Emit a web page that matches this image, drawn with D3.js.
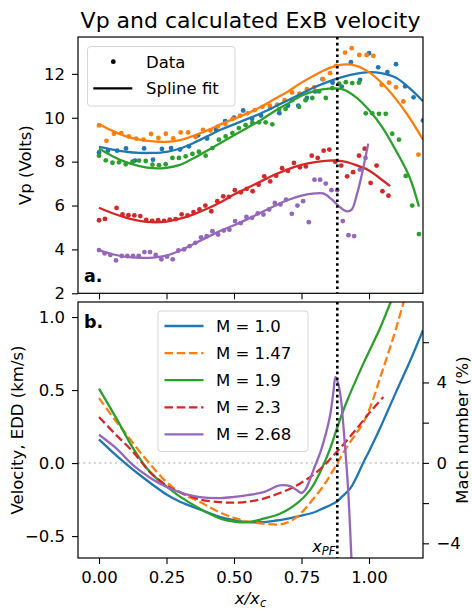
<!DOCTYPE html>
<html><head><meta charset="utf-8">
<script src="https://cdn.jsdelivr.net/npm/d3@7"></script>
<style>
body{margin:0;background:#fff;}
svg{display:block;font-family:"DejaVu Sans",sans-serif;}
</style></head><body>
<svg id="chart" width="472" height="612"></svg>
<script>
// ---------------- DATA ----------------
const colors = ["#1f77b4","#ff7f0e","#2ca02c","#d62728","#9467bd"];
const machLabels = ["M = 1.0","M = 1.47","M = 1.9","M = 2.3","M = 2.68"];
const dashed = [false,true,false,true,false];

// top panel: measured Vp points [x/xc, Vp]
const ptsM10 = [[0,8.42],[0.033,8.5],[0.067,8.5],[0.1,8.6],[0.133,8.05],[0.167,8.6],[0.2,8.09],[0.233,8.58],[0.267,8.62],[0.3,8.55],[0.333,8.7],[0.367,9.2],[0.4,9.05],[0.433,9.45],[0.467,9.85],[0.5,10.0],[0.534,10.33],[0.567,9.95],[0.6,10.1],[0.634,10.45],[0.668,10.21],[0.7,10.55],[0.738,10.55],[0.77,10.9],[0.8,11.2],[0.828,11.76],[0.865,11.6],[0.899,11.42],[0.933,12.53],[0.967,11.73],[1.0,12.94],[1.034,12.3],[1.068,12.08],[1.1,12.44],[1.134,11.43],[1.165,10.93],[1.2,9.88]];
const ptsM147 = [[0,9.65],[0.0275,8.95],[0.055,9.27],[0.0825,9.3],[0.11,9.15],[0.1375,9.05],[0.165,9.0],[0.1925,9.26],[0.22,9.08],[0.2475,9.27],[0.275,9.06],[0.3025,9.33],[0.33,9.33],[0.3575,9.12],[0.385,9.45],[0.4125,9.42],[0.44,9.6],[0.4675,9.72],[0.495,9.95],[0.5225,10.1],[0.55,10.2],[0.5775,10.35],[0.605,10.5],[0.6325,10.55],[0.66,10.6],[0.6875,10.8],[0.715,11.15],[0.7425,11.1],[0.77,11.3],[0.7975,11.4],[0.83,11.76],[0.856,12.03],[0.878,12.36],[0.911,12.97],[0.936,13.17],[0.964,12.86],[0.991,12.86],[1.016,12.82],[1.047,11.5],[1.074,11.6],[1.1,11.39],[1.127,10.74],[1.183,8.32]];
const ptsM19 = [[0,8.27],[0.025,8.06],[0.05,7.95],[0.074,7.97],[0.099,7.88],[0.124,8.0],[0.148,8.05],[0.173,8.03],[0.198,7.86],[0.222,7.84],[0.247,7.88],[0.272,8.17],[0.296,8.17],[0.321,8.24],[0.346,8.35],[0.37,8.45],[0.395,8.27],[0.42,8.62],[0.444,9.0],[0.469,9.15],[0.494,9.3],[0.518,9.53],[0.543,9.66],[0.568,9.76],[0.593,9.79],[0.617,9.79],[0.642,9.7],[0.667,10.38],[0.691,10.4],[0.716,10.8],[0.741,10.5],[0.765,10.8],[0.79,10.9],[0.815,11.2],[0.84,10.9],[0.864,11.35],[0.889,11.55],[0.914,11.62],[0.938,11.58],[0.963,11.6],[0.988,10.2],[1.012,10.2],[1.037,10.18],[1.062,10.18],[1.086,9.27],[1.111,9.0],[1.136,7.35],[1.16,6.0],[1.185,4.7]];
const ptsM23 = [[0,5.33],[0.022,5.39],[0.065,5.89],[0.087,5.59],[0.109,5.56],[0.131,5.55],[0.153,5.52],[0.175,5.35],[0.197,5.3],[0.219,5.33],[0.241,5.3],[0.262,5.36],[0.284,5.38],[0.306,5.6],[0.328,5.55],[0.35,5.7],[0.372,5.82],[0.394,6.0],[0.416,5.74],[0.438,6.2],[0.46,6.42],[0.481,6.39],[0.503,6.7],[0.525,6.6],[0.547,6.76],[0.569,6.65],[0.591,6.95],[0.612,7.33],[0.634,7.1],[0.656,7.36],[0.678,7.7],[0.7,7.58],[0.722,7.94],[0.744,7.74],[0.766,7.78],[0.788,8.27],[0.81,8.17],[0.832,8.5],[0.853,8.55],[0.875,8.0],[0.897,7.82],[0.919,7.33],[0.941,7.52],[0.963,8.27],[0.984,8.59],[1.006,7.03],[1.028,7.82],[1.05,6.65],[1.072,6.45]];
const ptsM268 = [[0,3.97],[0.021,3.82],[0.042,3.75],[0.063,3.5],[0.084,3.7],[0.105,3.7],[0.126,3.7],[0.147,3.7],[0.168,3.88],[0.189,3.88],[0.21,3.75],[0.231,3.55],[0.252,3.67],[0.273,3.55],[0.294,3.95],[0.315,4.0],[0.336,4.15],[0.357,4.3],[0.378,4.55],[0.399,4.6],[0.42,4.83],[0.441,4.68],[0.462,4.86],[0.483,4.9],[0.504,5.29],[0.525,5.2],[0.546,5.48],[0.567,5.44],[0.588,5.64],[0.609,5.59],[0.63,5.82],[0.651,6.12],[0.672,6.05],[0.693,6.27],[0.714,5.62],[0.735,6.0],[0.756,6.2],[0.777,5.24],[0.798,7.18],[0.819,7.18],[0.84,7.0],[0.861,6.7],[0.882,6.7],[0.903,5.29],[0.924,4.65],[0.945,4.61],[0.966,7.64],[0.987,8.17]];

// top panel: spline fits
const fitX = [0,0.05,0.1,0.15,0.2,0.25,0.3,0.35,0.4,0.45,0.5,0.55,0.6,0.65,0.7,0.75,0.8,0.85,0.9,0.95,1.0,1.05,1.1,1.15,1.2];
const fitM10 = [8.67,8.55,8.45,8.4,8.4,8.45,8.6,8.85,9.15,9.45,9.7,9.95,10.2,10.5,10.8,11.1,11.4,11.65,11.85,12.0,12.08,12.02,11.82,11.35,10.75];
const fitM147 = [9.72,9.4,9.15,9.0,8.92,8.9,8.98,9.18,9.42,9.7,9.95,10.2,10.5,10.85,11.2,11.6,11.95,12.25,12.42,12.38,12.08,11.55,10.85,10.0,9.0];
const fitM19X = [0,0.05,0.1,0.15,0.2,0.25,0.3,0.35,0.4,0.45,0.5,0.55,0.6,0.65,0.7,0.75,0.8,0.85,0.9,0.95,1.0,1.05,1.1,1.15,1.185];
const fitM19 = [8.6,8.25,7.98,7.8,7.7,7.72,7.85,8.15,8.5,8.85,9.2,9.55,9.9,10.3,10.65,11.0,11.22,11.33,11.3,10.95,10.35,9.55,8.5,7.3,5.95];
const fitM23X = [0,0.05,0.1,0.15,0.2,0.25,0.3,0.35,0.4,0.45,0.5,0.55,0.6,0.65,0.7,0.75,0.8,0.85,0.9,0.95,1.0,1.05,1.078];
const fitM23 = [5.9,5.65,5.45,5.3,5.24,5.27,5.4,5.6,5.85,6.15,6.5,6.8,7.1,7.4,7.65,7.85,7.98,8.05,8.02,7.85,7.6,7.15,6.88];
const fitM268X = [0,0.05,0.1,0.15,0.2,0.25,0.3,0.35,0.4,0.45,0.5,0.55,0.6,0.65,0.7,0.75,0.8,0.83,0.86,0.89,0.915,0.935,0.955,0.975,0.997];
const fitM268 = [3.97,3.78,3.66,3.62,3.63,3.72,3.95,4.25,4.55,4.85,5.1,5.38,5.68,5.98,6.25,6.45,6.55,6.55,6.3,5.95,5.74,5.8,6.5,7.5,8.82];

// bottom panel: velocity (km/s)
const velM10 = [[0,0.162],[0.05,0.075],[0.1,-0.005],[0.15,-0.08],[0.2,-0.15],[0.25,-0.215],[0.3,-0.265],[0.374,-0.318],[0.45,-0.37],[0.5,-0.39],[0.55,-0.405],[0.6,-0.405],[0.65,-0.395],[0.7,-0.38],[0.75,-0.36],[0.8,-0.335],[0.83,-0.31],[0.86,-0.285],[0.88,-0.265],[0.9,-0.23],[0.93,-0.175],[0.95,-0.11],[0.98,0.007],[1.0,0.08],[1.04,0.235],[1.07,0.36],[1.1,0.486],[1.15,0.69],[1.2,0.91]];
const velM147 = [[0,0.445],[0.065,0.281],[0.1,0.2],[0.152,0.075],[0.2,-0.03],[0.25,-0.13],[0.3,-0.2],[0.374,-0.267],[0.45,-0.34],[0.5,-0.375],[0.55,-0.4],[0.609,-0.415],[0.67,-0.42],[0.7,-0.405],[0.732,-0.37],[0.76,-0.32],[0.794,-0.244],[0.83,-0.16],[0.856,-0.084],[0.88,-0.01],[0.906,0.075],[0.94,0.17],[0.98,0.281],[1.01,0.41],[1.04,0.578],[1.07,0.745],[1.1,0.92],[1.135,1.15]];
const velM19 = [[0,0.51],[0.065,0.304],[0.127,0.099],[0.189,-0.062],[0.25,-0.16],[0.3,-0.23],[0.374,-0.312],[0.45,-0.38],[0.5,-0.4],[0.55,-0.405],[0.609,-0.381],[0.67,-0.347],[0.732,-0.278],[0.781,-0.187],[0.819,-0.062],[0.856,0.099],[0.883,0.247],[0.917,0.418],[0.979,0.681],[1.04,0.92],[1.08,1.1],[1.1,1.18]];
const velM23 = [[0,0.315],[0.065,0.19],[0.127,0.075],[0.189,-0.062],[0.25,-0.153],[0.3,-0.2],[0.374,-0.249],[0.45,-0.268],[0.5,-0.271],[0.55,-0.265],[0.609,-0.244],[0.67,-0.205],[0.732,-0.153],[0.806,-0.062],[0.88,0.075],[0.954,0.235],[1.004,0.349],[1.053,0.452]];
const velM268 = [[0,0.194],[0.065,0.099],[0.127,-0.016],[0.189,-0.1],[0.25,-0.164],[0.3,-0.2],[0.374,-0.233],[0.45,-0.24],[0.5,-0.232],[0.55,-0.22],[0.609,-0.199],[0.67,-0.153],[0.71,-0.16],[0.732,-0.185],[0.75,-0.205],[0.765,-0.18],[0.78,-0.118],[0.8,-0.02],[0.82,0.075],[0.84,0.2],[0.856,0.327],[0.868,0.486],[0.876,0.59],[0.885,0.55],[0.896,0.44],[0.904,0.28],[0.911,0.12],[0.918,-0.05],[0.924,-0.221],[0.93,-0.45],[0.936,-0.7]];

const xTicks = [0,0.25,0.5,0.75,1.0];
const xTickLabels = ["0.00","0.25","0.50","0.75","1.00"];
const vpTicks = [2,4,6,8,10,12];
const velTicks = [-0.5,0,0.5,1.0];
const velTickLabels = ["−0.5","0.0","0.5","1.0"];
const machTicks = [-4,-2,0,2,4,6];
const machTickLabels = ["−4","","0","","4",""];
const xPF = 0.8826;

// ---------------- LAYOUT ----------------
const svg = d3.select("#chart");
const L = 78, R = 423;
const topP = {t:37, b:293.3};
const botP = {t:302, b:558};
const FS = 16.5;

const x = d3.scaleLinear().domain([-0.0778,1.2]).range([L,R]);
const yTop = d3.scaleLinear().domain([2.0,13.68]).range([topP.b,topP.t]);
const yBot = d3.scaleLinear().domain([-0.65,1.103]).range([botP.b,botP.t]);
const yMach = d3.scaleLinear().domain([-4.73,8.0]).range([botP.b,botP.t]);

const defs = svg.append("defs");
defs.append("clipPath").attr("id","clipTop").append("rect").attr("x",L).attr("y",topP.t).attr("width",R-L).attr("height",topP.b-topP.t);
defs.append("clipPath").attr("id","clipBot").append("rect").attr("x",L).attr("y",botP.t).attr("width",R-L).attr("height",botP.b-botP.t);

// title
svg.append("text").attr("x",(L+R)/2).attr("y",28).attr("text-anchor","middle")
  .attr("font-size",22).attr("fill","#000").text("Vp and calculated ExB velocity");

function styleAxis(g){
  g.select(".domain").remove();
  g.selectAll(".tick line").attr("stroke","#000").attr("stroke-width",1.1);
  g.selectAll(".tick text").attr("font-size",FS).attr("fill","#000").attr("font-family","DejaVu Sans");
}

// ---------- TOP PANEL ----------
const gTop = svg.append("g");
gTop.append("g").attr("transform",`translate(0,${topP.b})`)
  .call(d3.axisBottom(x).tickValues(xTicks).tickFormat("").tickSize(6).tickSizeOuter(0)).call(styleAxis);
gTop.append("g").attr("transform",`translate(${L},0)`)
  .call(d3.axisLeft(yTop).tickValues(vpTicks).tickFormat(d3.format("d")).tickSize(6).tickPadding(7).tickSizeOuter(0)).call(styleAxis);

const line = (xs,ys,yS) => d3.line().x((d,i)=>x(xs[i])).y(d=>yS(d)).curve(d3.curveCatmullRom.alpha(0.5))(ys);
const linePairs = (pts,yS) => d3.line().x(d=>x(d[0])).y(d=>yS(d[1])).curve(d3.curveCatmullRom.alpha(0.5))(pts);

const plotTop = gTop.append("g").attr("clip-path","url(#clipTop)");
const allPts = [ptsM10,ptsM147,ptsM19,ptsM23,ptsM268];
const fits = [[fitX,fitM10],[fitX,fitM147],[fitM19X,fitM19],[fitM23X,fitM23],[fitM268X,fitM268]];
allPts.forEach((pts,k)=>{
  plotTop.append("g").selectAll("circle").data(pts).join("circle")
    .attr("cx",d=>x(d[0])).attr("cy",d=>yTop(d[1])).attr("r",2.4).attr("fill",colors[k]);
});
fits.forEach((f,k)=>{
  plotTop.append("path").attr("d",line(f[0],f[1],yTop)).attr("fill","none")
    .attr("stroke",colors[k]).attr("stroke-width",2.3);
});
plotTop.append("line").attr("x1",x(xPF)).attr("x2",x(xPF)).attr("y1",topP.t).attr("y2",topP.b)
  .attr("stroke","#000").attr("stroke-width",2.6).attr("stroke-dasharray","2.6,3.2");

gTop.append("rect").attr("x",L).attr("y",topP.t).attr("width",R-L).attr("height",topP.b-topP.t)
  .attr("fill","none").attr("stroke","#000").attr("stroke-width",1.2);

// top legend
const lgT = gTop.append("g");
lgT.append("rect").attr("x",87.5).attr("y",46.5).attr("width",147.5).attr("height",59.5).attr("rx",3)
  .attr("fill","#fff").attr("fill-opacity",0.8).attr("stroke","#d6d6d6").attr("stroke-width",1);
lgT.append("circle").attr("cx",113.3).attr("cy",61.7).attr("r",2.4).attr("fill","#000");
lgT.append("text").attr("x",146).attr("y",67.6).attr("font-size",FS).text("Data");
lgT.append("line").attr("x1",93.3).attr("x2",132.3).attr("y1",88.3).attr("y2",88.3).attr("stroke","#000").attr("stroke-width",2.3);
lgT.append("text").attr("x",146).attr("y",94.2).attr("font-size",FS).text("Spline fit");

gTop.append("text").attr("x",84).attr("y",281.5).attr("font-size",17.5).attr("font-weight","bold").text("a.");

svg.append("text").attr("transform",`translate(30.5,${(topP.t+topP.b)/2}) rotate(-90)`)
  .attr("text-anchor","middle").attr("font-size",FS).text("Vp (Volts)");

// ---------- BOTTOM PANEL ----------
const gBot = svg.append("g");
gBot.append("g").attr("transform",`translate(0,${botP.b})`)
  .call(d3.axisBottom(x).tickValues(xTicks).tickFormat((d,i)=>xTickLabels[i]).tickSize(6).tickPadding(7.5).tickSizeOuter(0)).call(styleAxis);
gBot.append("g").attr("transform",`translate(${L},0)`)
  .call(d3.axisLeft(yBot).tickValues(velTicks).tickFormat((d,i)=>velTickLabels[i]).tickSize(6).tickPadding(7).tickSizeOuter(0)).call(styleAxis);
gBot.append("g").attr("transform",`translate(${R},0)`)
  .call(d3.axisRight(yMach).tickValues(machTicks).tickFormat((d,i)=>machTickLabels[i]).tickSize(6).tickPadding(7.5).tickSizeOuter(0)).call(styleAxis);

const plotBot = gBot.append("g").attr("clip-path","url(#clipBot)");
plotBot.append("line").attr("x1",L).attr("x2",R).attr("y1",yBot(0)).attr("y2",yBot(0))
  .attr("stroke","#d3d3d3").attr("stroke-width",2).attr("stroke-dasharray","2,3.3");
const vels = [velM10,velM147,velM19,velM23,velM268];
vels.forEach((v,k)=>{
  plotBot.append("path").attr("d",linePairs(v,yBot)).attr("fill","none")
    .attr("stroke",colors[k]).attr("stroke-width",2.3)
    .attr("stroke-dasharray",dashed[k]?"8.5,3.7":null);
});
plotBot.append("line").attr("x1",x(xPF)).attr("x2",x(xPF)).attr("y1",botP.t).attr("y2",botP.b)
  .attr("stroke","#000").attr("stroke-width",2.6).attr("stroke-dasharray","2.6,3.2");

gBot.append("rect").attr("x",L).attr("y",botP.t).attr("width",R-L).attr("height",botP.b-botP.t)
  .attr("fill","none").attr("stroke","#000").attr("stroke-width",1.2);

// x_PF label
const pf = gBot.append("text").attr("x",x(xPF)-2).attr("y",552).attr("text-anchor","end").attr("font-style","italic").attr("font-size",16);
pf.append("tspan").text("x");
pf.append("tspan").attr("font-size",11.5).attr("dy",3).text("PF");

// bottom legend
const lgB = gBot.append("g");
lgB.append("rect").attr("x",158).attr("y",311).attr("width",150).attr("height",140.5).attr("rx",3)
  .attr("fill","#fff").attr("fill-opacity",0.8).attr("stroke","#d6d6d6").attr("stroke-width",1);
machLabels.forEach((lab,k)=>{
  const cy = 326 + k*27.1;
  lgB.append("line").attr("x1",164.5).attr("x2",203.5).attr("y1",cy).attr("y2",cy)
    .attr("stroke",colors[k]).attr("stroke-width",2.3).attr("stroke-dasharray",dashed[k]?"8.5,3.7":null);
  lgB.append("text").attr("x",216).attr("y",cy+6).attr("font-size",FS).text(lab);
});

gBot.append("text").attr("x",84).attr("y",328).attr("font-size",17.5).attr("font-weight","bold").text("b.");

svg.append("text").attr("transform",`translate(23,${(botP.t+botP.b)/2}) rotate(-90)`)
  .attr("text-anchor","middle").attr("font-size",FS).text("Velocity, EDD (km/s)");
svg.append("text").attr("transform",`translate(468,${(botP.t+botP.b)/2}) rotate(-90)`)
  .attr("text-anchor","middle").attr("font-size",FS).text("Mach number (%)");

const xl = svg.append("text").attr("x",(L+R)/2).attr("y",604).attr("text-anchor","middle").attr("font-style","italic").attr("font-size",FS);
xl.append("tspan").text("x/x");
xl.append("tspan").attr("font-size",11.5).attr("dy",3).text("c");
</script></body></html>
